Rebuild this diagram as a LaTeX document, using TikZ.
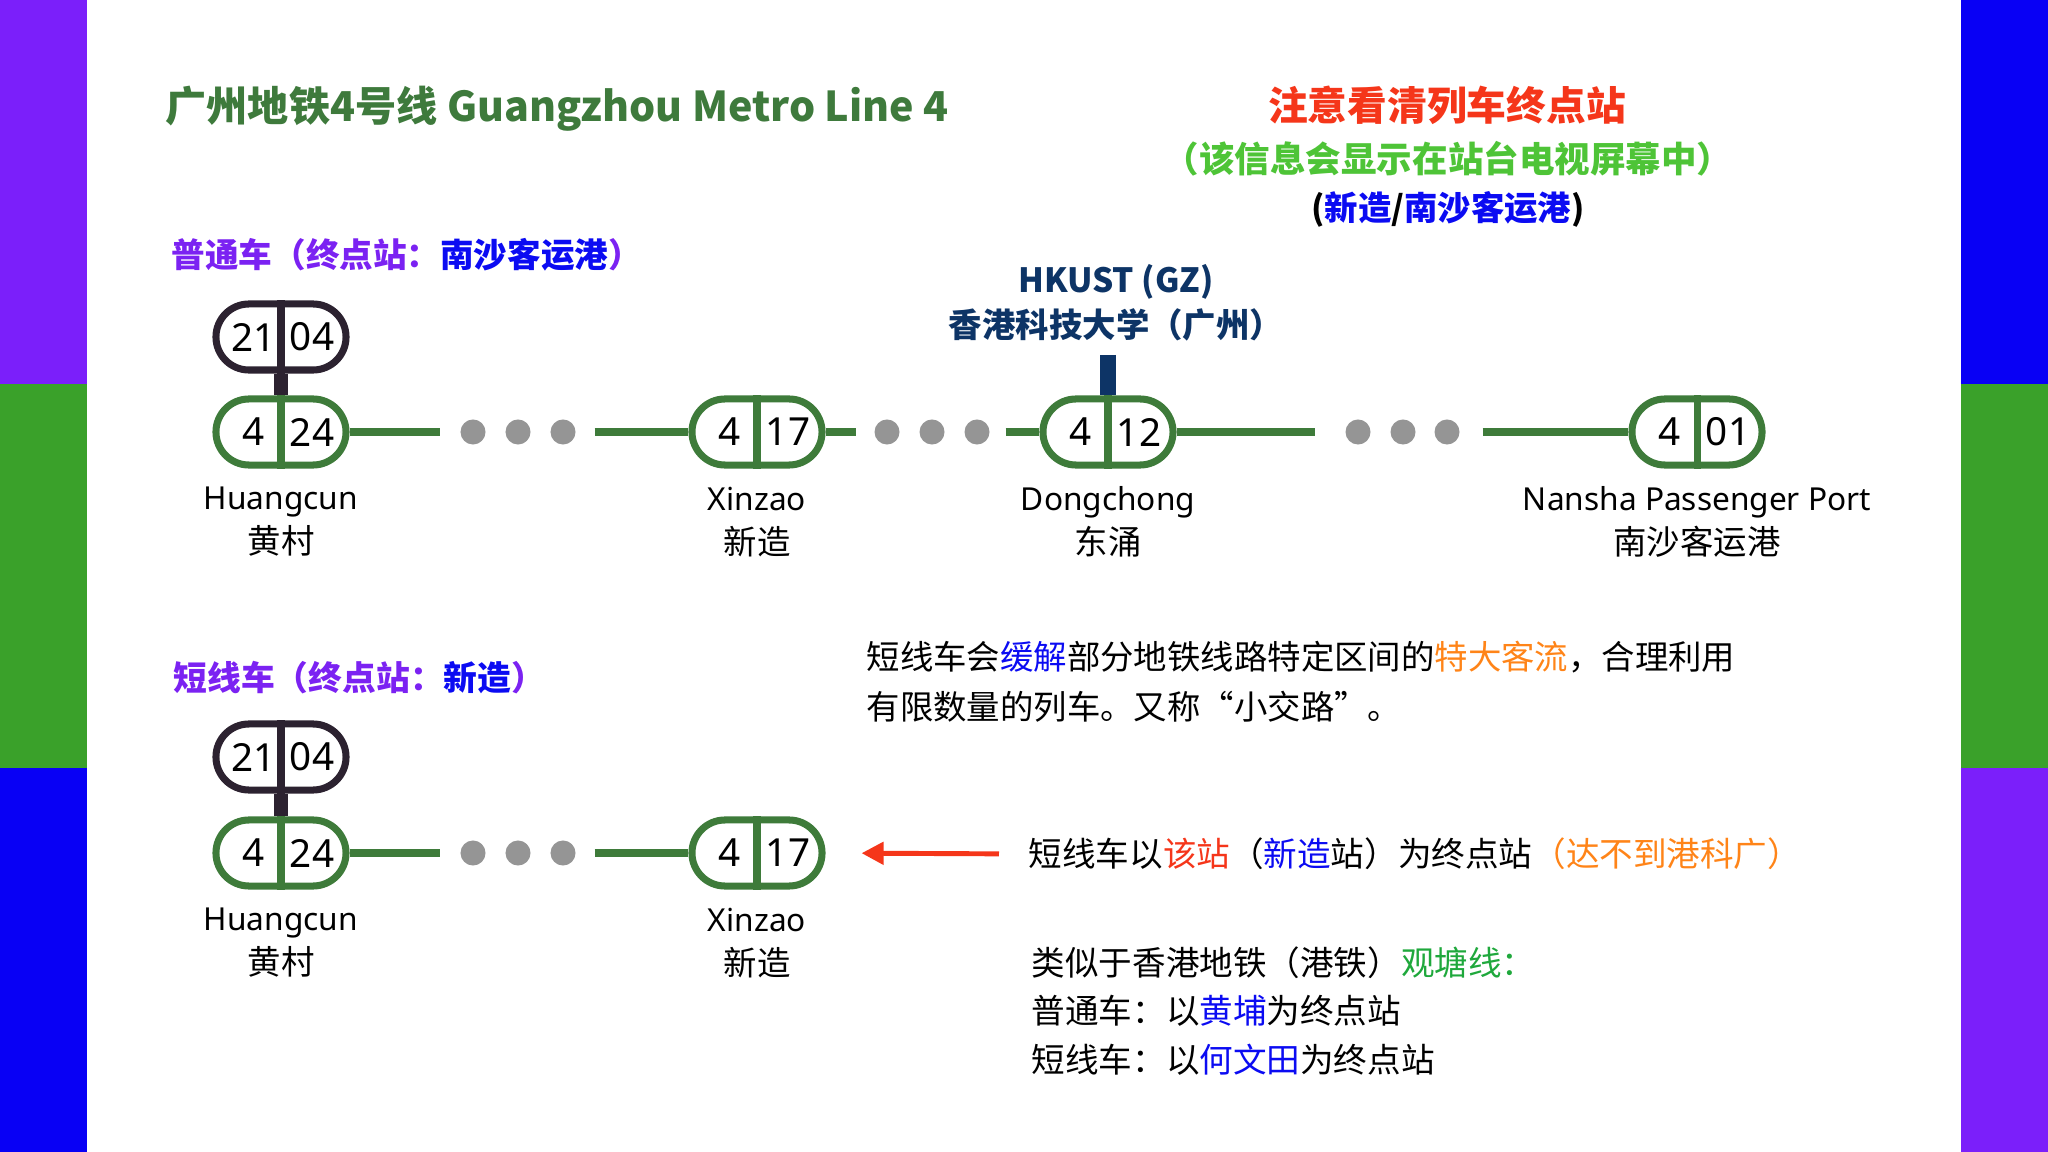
\documentclass[tikz,border=0pt]{standalone}
\usepackage{fontspec}
\setmainfont{Noto Sans}
\newfontfamily\cjk{Noto Sans CJK SC}
\usetikzlibrary{arrows.meta, positioning, shapes.misc}
\definecolor{barpurple}{HTML}{7B1FFA}
\definecolor{bargreen}{HTML}{3AA12A}
\definecolor{barblue}{HTML}{0800F5}
\definecolor{titlegreen}{HTML}{3E7A3C}
\definecolor{linegreen}{HTML}{3E7B3A}
\definecolor{pilldark}{HTML}{2C2230}
\definecolor{dotgray}{HTML}{959595}
\definecolor{alertred}{HTML}{F5361A}
\definecolor{softgreen}{HTML}{4EC437}
\definecolor{termblue}{HTML}{0B0BF2}
\definecolor{hdpurple}{HTML}{7B22F2}
\definecolor{hkustnavy}{HTML}{0D3466}
\definecolor{floworange}{HTML}{FF8418}
\definecolor{ktgreen}{HTML}{1FA83C}

\begin{document}
\begin{tikzpicture}[x=0.01cm, y=-0.01cm,
    pill/.style={rounded rectangle, draw=#1, line width=2pt, fill=white, minimum width=1.3cm, minimum height=0.66cm, inner sep=0pt},
    num/.style={font=\fontsize{11}{12}\selectfont, inner sep=0pt},
    dot/.style={circle, fill=dotgray, minimum size=0.25cm, inner sep=0pt},
    track/.style={linegreen, line width=2.3pt},
    stname/.style={align=center, inner sep=0pt, font=\fontsize{9}{12.5}\selectfont},
    cjktext/.style={inner sep=0pt, anchor=west, align=left, font=\cjk\fontsize{#1}{14}\selectfont},
    cjkhead/.style={inner sep=0pt, anchor=west, font=\cjk\bfseries\fontsize{#1}{14}\selectfont},
    arr/.style={-{Triangle[length=0.22cm, width=0.22cm]}, color=alertred, line width=1.4pt}
]
    % side bars
    \fill[barpurple] (0,0) rectangle (87,384);
    \fill[bargreen] (0,384) rectangle (87,768);
    \fill[barblue] (0,768) rectangle (87,1152);
    \fill[barblue] (1961,0) rectangle (2048,384);
    \fill[bargreen] (1961,384) rectangle (2048,768);
    \fill[barpurple] (1961,768) rectangle (2048,1152);
    \useasboundingbox (0,0) rectangle (2048,1152);

    % headings
    \node[cjkhead=11.7, text=titlegreen] (title) at (165,109) {广州地铁4号线 Guangzhou Metro Line 4};
    \node[cjkhead=11.3, anchor=center, text=alertred] (warn) at (1447,105) {注意看清列车终点站};
    \node[cjkhead=10.1, anchor=center, text=softgreen] (screen) at (1448,159) {（该信息会显示在站台电视屏幕中）};
    \node[cjkhead=9.5, anchor=center] (dest) at (1448,209) {(\textcolor{termblue}{新造}/\textcolor{termblue}{南沙客运港})};
    \node[cjkhead=9.55, text=hdpurple] (normal) at (171,255) {普通车（终点站：\textcolor{termblue}{南沙客运港}）};
    \node[cjkhead=9.6, text=hdpurple] (short) at (173,678) {短线车（终点站：\textcolor{termblue}{新造}）};

    % line 4, full route
    \node[pill=pilldark] (tp1) at (281,337) {};
    \node[pill=linegreen] (hc1) at (281,432) {};
    \node[pill=linegreen] (xz1) at (757,432) {};
    \node[pill=linegreen] (dc) at (1108,432) {};
    \node[pill=linegreen] (ns) at (1697,432) {};
    \foreach \x [count=\i] in {473,518,563} \node[dot] (a\i) at (\x,432) {};
    \foreach \x [count=\i] in {887,932,977} \node[dot] (b\i) at (\x,432) {};
    \foreach \x [count=\i] in {1358,1403,1447} \node[dot] (c\i) at (\x,432) {};

    % line 4, short route
    \node[pill=pilldark] (tp2) at (281,757) {};
    \node[pill=linegreen] (hc2) at (281,853) {};
    \node[pill=linegreen] (xz2) at (757,853) {};
    \foreach \x [count=\i] in {473,518,563} \node[dot] (d\i) at (\x,853) {};

    \foreach \st/\lt/\rt/\col in {hc1/4/24/linegreen, xz1/4/17/linegreen, dc/4/12/linegreen, ns/4/01/linegreen,
        hc2/4/24/linegreen, xz2/4/17/linegreen, tp1/21/04/pilldark, tp2/21/04/pilldark} {
        \draw[\col, line width=2pt] (\st.north) -- (\st.south);
        \node[num] (\st-l) at ([xshift=-0.27cm]\st.center) {\lt};
        \node[num] (\st-r) at ([xshift=0.31cm]\st.center) {\rt};
    }

    \draw[pilldark, line width=4pt] (tp1.south) -- (hc1.north);
    \draw[pilldark, line width=4pt] (tp2.south) -- (hc2.north);

    \draw[track, shorten >=0.195cm] (hc1.east) -- (a1.west);
    \draw[track, shorten <=0.185cm] (a3.east) -- (xz1.west);
    \draw[track, shorten >=0.175cm] (xz1.east) -- (b1.west);
    \draw[track, shorten <=0.155cm] (b3.east) -- (dc.west);
    \draw[track, shorten >=0.295cm] (dc.east) -- (c1.west);
    \draw[track, shorten <=0.225cm] (c3.east) -- (ns.west);
    \draw[track, shorten >=0.195cm] (hc2.east) -- (d1.west);
    \draw[track, shorten <=0.185cm] (d3.east) -- (xz2.west);

    % HKUST (GZ)
    \node[align=center, inner sep=0pt, text=hkustnavy, font=\cjk\bfseries\fontsize{9.5}{12.8}\selectfont] (hkust) at (1116,303) {HKUST (GZ)\\香港科技大学（广州）};
    \coordinate (stub) at (1108,355);
    \draw[hkustnavy, line width=4.3pt] (stub) -- (dc.north);

    % station names
    \node[stname] (hc1name) at (281,522) {Huangcun\\{\cjk\fontsize{9.5}{12}\selectfont 黄村}};
    \node[stname] (xz1name) at (757,522) {Xinzao\\{\cjk\fontsize{9.5}{12}\selectfont 新造}};
    \node[stname] (dcname) at (1108,522) {Dongchong\\{\cjk\fontsize{9.5}{12}\selectfont 东涌}};
    \node[stname] (nsname) at (1697,522) {Nansha Passenger Port\\{\cjk\fontsize{9.5}{12}\selectfont 南沙客运港}};
    \node[stname] (hc2name) at (281,943) {Huangcun\\{\cjk\fontsize{9.5}{12}\selectfont 黄村}};
    \node[stname] (xz2name) at (757,943) {Xinzao\\{\cjk\fontsize{9.5}{12}\selectfont 新造}};

    % notes
    \node[cjktext=9.5, font=\cjk\fontsize{9.5}{14.2}\selectfont] (why) at (866,682) {短线车会\textcolor{termblue}{缓解}部分地铁线路特定区间的\textcolor{floworange}{特大客流}，合理利用\\有限数量的列车。又称“小交路”。};
    \node[cjktext=9.55] (shortmsg) at (1028,854) {短线车以\textcolor{alertred}{该站}（\textcolor{termblue}{新造}站）为终点站\textcolor{floworange}{（达不到港科广）}};
    \draw[arr, shorten <=0.29cm, shorten >=0.36cm] (shortmsg.west) -- (xz2.east);
    \node[cjktext=9.55, font=\cjk\fontsize{9.55}{13.8}\selectfont] (ktl) at (1031,1011) {类似于香港地铁（港铁）\textcolor{ktgreen}{观塘线：}\\普通车：以\textcolor{termblue}{黄埔}为终点站\\短线车：以\textcolor{termblue}{何文田}为终点站};
\end{tikzpicture}
\end{document}
